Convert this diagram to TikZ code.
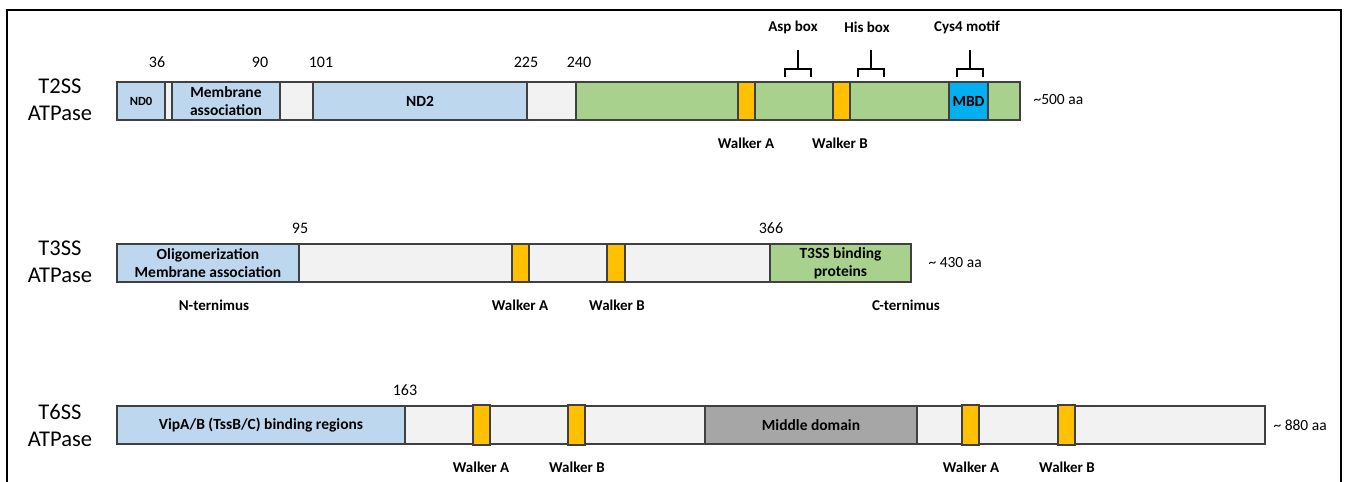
\documentclass[tikz,border=0pt]{standalone}
\usepackage{fontspec}
\setmainfont{Carlito}
\definecolor{cblue}{HTML}{BDD7EE}
\definecolor{cgray}{HTML}{F2F2F2}
\definecolor{cgreen}{HTML}{A9D18E}
\definecolor{corange}{HTML}{FFC000}
\definecolor{ccyan}{HTML}{00B0F0}
\definecolor{cdark}{HTML}{A6A6A6}
\definecolor{cline}{HTML}{404040}
\newcommand{\segbox}[7]{\node[seg, fill=#6, minimum width={(#3-#2)*1pt}, minimum height={(#5-#4)*1pt}] (#1) at ({(#2+#3)/2},{(#4+#5)/2}) {#7};}
\tikzset{
  seg/.style={draw=cline, line width=1.1pt, inner sep=0pt, outer sep=0pt, align=center, font=\fontsize{15.5}{18}\selectfont\bfseries},
  title/.style={align=center, font=\fontsize{22.5}{27}\selectfont},
  num/.style={font=\fontsize{16}{18}\selectfont},
  lab/.style={font=\fontsize{15}{17}\selectfont\bfseries},
  len/.style={anchor=west, font=\fontsize{15.5}{18}\selectfont},
  brk/.style={line width=2.4pt}
}
\begin{document}
\begin{tikzpicture}[x=1pt,y=-1pt]
\useasboundingbox (0,0) rectangle (1347,482);
\fill[white] (0,0) rectangle (1347,482);
% frame
\draw[line width=2pt] (7,500) -- (7,10) -- (1341,10) -- (1341,500);

% ---------- T2SS ----------
\node[title] (t2) at (60,100) {T2SS\\ATPase};
\segbox{a0}{117}{165}{82}{120}{cblue}{\fontsize{12.5}{14}\selectfont ND0}
\segbox{a1}{165}{172}{82}{120}{cgray}{}
\segbox{a2}{172}{280}{82}{120}{cblue}{Membrane\\association}
\segbox{a3}{280}{313}{82}{120}{cgray}{}
\segbox{a4}{313}{527}{82}{120}{cblue}{ND2}
\segbox{a5}{527}{576}{82}{120}{cgray}{}
\segbox{a6}{576}{1020}{82}{120}{cgreen}{}
\segbox{a7}{738}{755}{82}{120}{corange}{}
\segbox{a8}{833}{850}{82}{120}{corange}{}
\segbox{a9}{949}{988}{82}{120}{ccyan}{MBD}
\node[num] (n36) at (157,62) {36};
\node[num] (n90) at (260,62) {90};
\node[num] (n101) at (321,62) {101};
\node[num] (n225) at (526,62) {225};
\node[num] (n240) at (579,62) {240};
\node[len] (l500) at (1030,100) {\textasciitilde500 aa};
\node[lab] (wa1) at (746,143) {Walker A};
\node[lab] (wb1) at (840,143) {Walker B};
\node[lab] (asp) at (793,27) {Asp box};
\node[lab] (his) at (867,27) {His box};
\node[lab] (cys) at (967,27) {Cys4 motif};
\coordinate (aspT) at (798,50);
\coordinate (hisT) at (871,50);
\coordinate (cysT) at (970,50);
\draw[brk] (aspT) -- (798,69) (785,77) -- (785,69) -- (811,69) -- (811,77);
\draw[brk] (hisT) -- (871,69) (858,77) -- (858,69) -- (884,69) -- (884,77);
\draw[brk] (cysT) -- (970,69) (957,77) -- (957,69) -- (983,69) -- (983,77);

% ---------- T3SS ----------
\node[title] (t3) at (60,262) {T3SS\\ATPase};
\segbox{b0}{117}{299}{244}{282}{cblue}{Oligomerization\\Membrane association}
\segbox{b1}{299}{770}{244}{282}{cgray}{}
\segbox{b2}{512}{529}{244}{282}{corange}{}
\segbox{b3}{607}{625}{244}{282}{corange}{}
\segbox{b4}{770}{911}{244}{282}{cgreen}{T3SS binding\\proteins}
\node[num] (n95) at (300,228) {95};
\node[num] (n366) at (771,228) {366};
\node[len] (l430) at (925,263) {\textasciitilde{} 430 aa};
\node[lab] (nt) at (214,305) {N-ternimus};
\node[lab] (wa2) at (520,305) {Walker A};
\node[lab] (wb2) at (617,305) {Walker B};
\node[lab] (ct) at (906,305) {C-ternimus};

% ---------- T6SS ----------
\node[title] (t6) at (60,425) {T6SS\\ATPase};
\segbox{c0}{117}{405}{406}{444}{cblue}{VipA/B (TssB/C) binding regions}
\segbox{c1}{405}{705}{406}{444}{cgray}{}
\segbox{c2}{705}{917}{406}{444}{cdark}{Middle domain}
\segbox{c3}{917}{1265}{406}{444}{cgray}{}
\segbox{c4}{473}{490}{405}{445}{corange}{}
\segbox{c5}{568}{585}{405}{445}{corange}{}
\segbox{c6}{962}{979}{405}{445}{corange}{}
\segbox{c7}{1058}{1075}{405}{445}{corange}{}
\node[num] (n163) at (405,390) {163};
\node[len] (l880) at (1270,425) {\textasciitilde{} 880 aa};
\node[lab] (wa3) at (481,467) {Walker A};
\node[lab] (wb3) at (577,467) {Walker B};
\node[lab] (wa4) at (971,467) {Walker A};
\node[lab] (wb4) at (1067,467) {Walker B};
\end{tikzpicture}
\end{document}
